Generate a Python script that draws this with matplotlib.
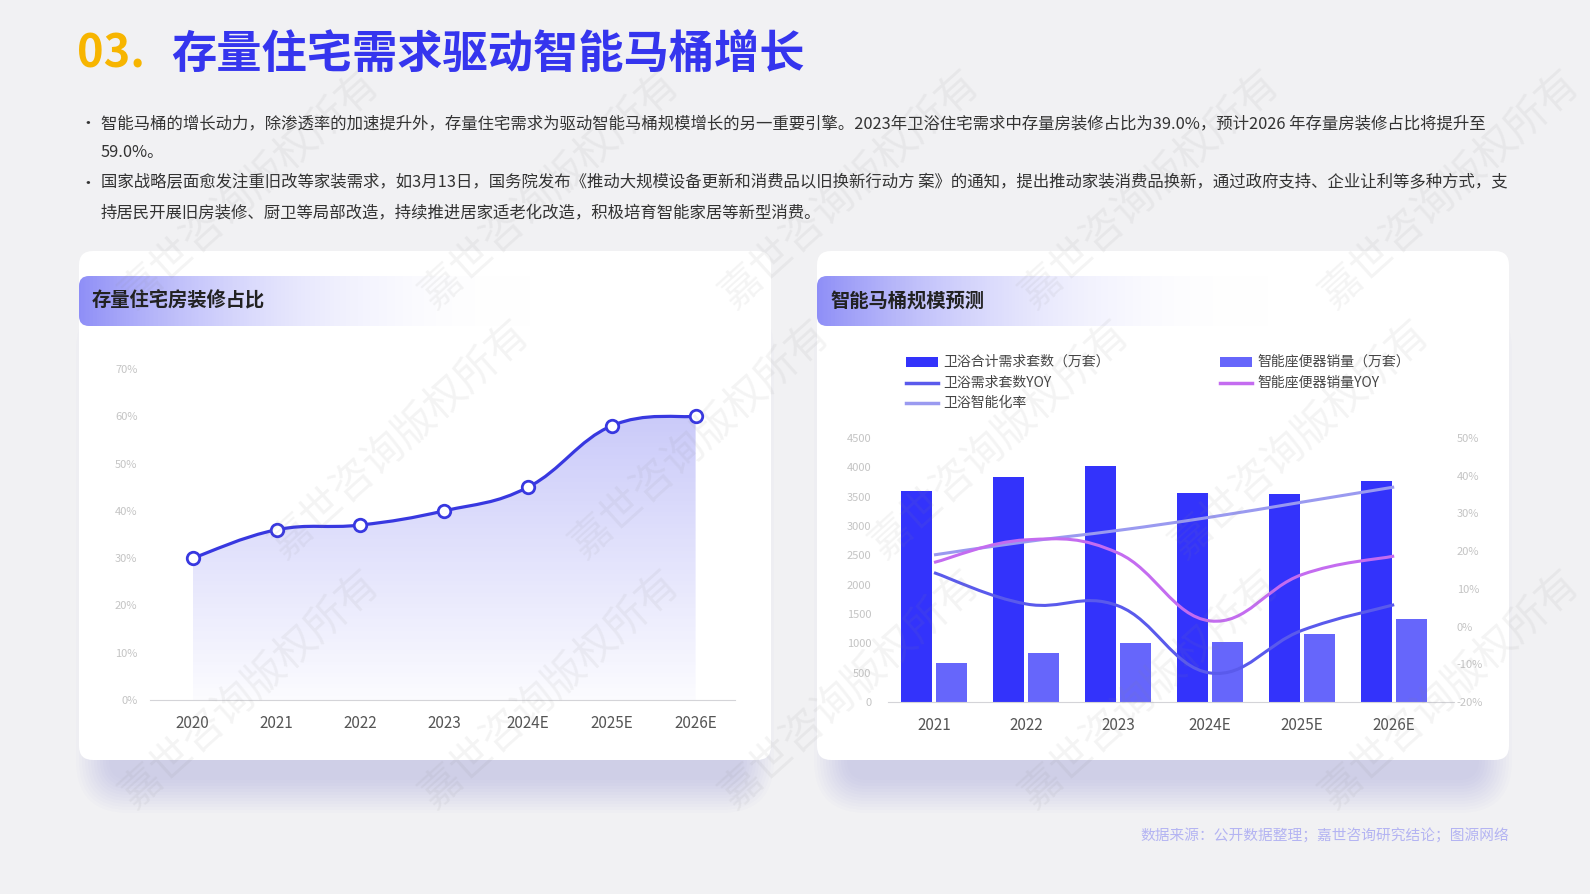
import numpy as np
import matplotlib.pyplot as plt
from matplotlib.patches import FancyBboxPatch, PathPatch, Rectangle
from matplotlib.path import Path
from matplotlib.lines import Line2D

plt.rcParams['font.family'] = ['Noto Sans CJK SC', 'DejaVu Sans']

W, H = 1590, 894

# 左图: 存量住宅房装修占比 (%)
years_left = ['2020', '2021', '2022', '2023', '2024E', '2025E', '2026E']
stock_share = [30, 36, 37, 40, 45, 58, 60]

# 右图: 智能马桶规模预测
years_right = ['2021', '2022', '2023', '2024E', '2025E', '2026E']
bath_demand = [3600, 3840, 4020, 3560, 3540, 3770]      # 万套
toilet_sales = [670, 840, 1010, 1030, 1160, 1410]       # 万套
bath_yoy = [14.3, 6.0, 5.5, -12.3, -1.0, 5.8]           # %
toilet_yoy = [17.0, 23.0, 19.5, 1.5, 13.8, 18.7]        # %
smart_rate = [19.0, 22.5, 25.5, 29.0, 33.0, 37.0]       # %

bullets = [
    ["智能马桶的增长动力，除渗透率的加速提升外，存量住宅需求为驱动智能马桶规模增长的另一重要引擎。2023年卫浴住宅需求中存量房装修占比为39.0%，预计2026 年存量房装修占比将提升至",
     "59.0%。"],
    ["国家战略层面愈发注重旧改等家装需求，如3月13日，国务院发布《推动大规模设备更新和消费品以旧换新行动方 案》的通知，提出推动家装消费品换新，通过政府支持、企业让利等多种方式，支",
     "持居民开展旧房装修、厨卫等局部改造，持续推进居家适老化改造，积极培育智能家居等新型消费。"],
]


def smooth_path(xs, ys, k=0.2):
    # 用三次贝塞尔把数据点连成平滑曲线 (数据坐标)
    xs = np.asarray(xs, float)
    ys = np.asarray(ys, float)
    n = len(xs)
    pts = np.column_stack([xs, ys])
    verts = [pts[0]]
    codes = [Path.MOVETO]
    for i in range(n - 1):
        p0 = pts[max(i - 1, 0)]
        p1 = pts[i]
        p2 = pts[i + 1]
        p3 = pts[min(i + 2, n - 1)]
        c1 = p1 + (p2 - p0) * k
        c2 = p2 - (p3 - p1) * k
        verts += [c1, c2, p2]
        codes += [Path.CURVE4] * 3
    return verts, codes


fig = plt.figure(figsize=(W / 100, H / 100), dpi=100)
fig.patch.set_facecolor('#f1f1f3')

# 背景层: 像素坐标
bg = fig.add_axes([0, 0, 1, 1], zorder=-5)
bg.set_xlim(0, W)
bg.set_ylim(H, 0)
bg.axis('off')

cards = [(79, 251, 692, 509), (817, 251, 692, 509)]
for (cx, cy, cw, ch) in cards:
    # 阴影
    for j in range(12):
        g = 3 * j
        sh = FancyBboxPatch((cx + 30 - g, cy + 60 - g + 20), cw - 60 + 2 * g, ch - 60 + 2 * g,
                            boxstyle="round,pad=0,rounding_size=%d" % (20 + g),
                            fc='#9696e4', ec='none', alpha=0.03)
        bg.add_patch(sh)
    card = FancyBboxPatch((cx, cy), cw, ch, boxstyle="round,pad=0,rounding_size=14",
                          fc='white', ec='none')
    bg.add_patch(card)
    # 标题条渐变
    hdr = FancyBboxPatch((cx, cy + 25), 460, 50, boxstyle="round,pad=0,rounding_size=10",
                         fc='none', ec='none')
    bg.add_patch(hdr)
    grad = np.zeros((1, 256, 4))
    t = np.linspace(0, 1, 256)
    grad[0, :, 0] = 0.56 + 0.44 * t
    grad[0, :, 1] = 0.56 + 0.44 * t
    grad[0, :, 2] = 0.97 + 0.03 * t
    grad[0, :, 3] = np.clip(1 - t, 0, 1) ** 1.4
    im = bg.imshow(grad, extent=[cx, cx + 460, cy + 75, cy + 25], aspect='auto', zorder=2)
    im.set_clip_path(hdr)

bg.text(92, 301, '存量住宅房装修占比', fontsize=13.9, fontweight='bold', color='#222222',
        va='center', zorder=3)
bg.text(830, 301, '智能马桶规模预测', fontsize=13.9, fontweight='bold', color='#222222',
        va='center', zorder=3)

# 标题
bg.text(77, 55, '03.', fontsize=32.5, fontweight='bold', color='#f7b500', va='center')
bg.text(171, 55, '存量住宅需求驱动智能马桶增长', fontsize=32.6, fontweight='bold',
        color='#3535ee', va='center')

# 文字段落
line_y = [[124, 153], [183, 213]]
for b, lines in enumerate(bullets):
    bg.text(79, line_y[b][0], '•', fontsize=12, color='#333333', va='center')
    for li, s in enumerate(lines):
        bg.text(101, line_y[b][li], s, fontsize=11.8, color='#333333', va='center')

# 数据来源
bg.text(1509, 836, '数据来源：公开数据整理；嘉世咨询研究结论；图源网络', fontsize=10.6,
        color='#b4b4f2', ha='right', va='center')

# ---------------- 左图 ----------------
ax1 = fig.add_axes([150 / W, 1 - 700 / H, 585 / W, 331 / H])
ax1.patch.set_alpha(0)
x1 = np.arange(len(years_left))
ax1.set_xlim(-0.51, 6.47)
ax1.set_ylim(0, 70)
verts, codes = smooth_path(x1, stock_share)
area = Path(verts + [(x1[-1], 0), (x1[0], 0), verts[0]],
            codes + [Path.LINETO, Path.LINETO, Path.CLOSEPOLY])
area_patch = PathPatch(area, fc='none', ec='none')
ax1.add_patch(area_patch)
fill = np.zeros((256, 1, 4))
tt = np.linspace(0, 1, 256)[:, None]
fill[..., 0] = 0.33
fill[..., 1] = 0.33
fill[..., 2] = 0.93
fill[..., 3] = 0.30 * tt + 0.02
img = ax1.imshow(fill, extent=[x1[0], x1[-1], 0, 62], origin='lower', aspect='auto', zorder=1)
img.set_clip_path(area_patch)
ax1.add_patch(PathPatch(Path(verts, codes), fc='none', ec='#3838e0', lw=2.3, zorder=3))
ax1.plot(x1, stock_share, 'o', ms=9, mfc='white', mec='#3838e0', mew=2, zorder=4)
ax1.set_xticks(x1)
ax1.set_xticklabels(years_left, fontsize=11, color='#555555')
ax1.set_yticks(range(0, 71, 10))
ax1.set_yticklabels(['%d%%' % v for v in range(0, 71, 10)], fontsize=8, color='#c4c4c4')
ax1.tick_params(length=0)
ax1.tick_params(axis='x', pad=11)
ax1.tick_params(axis='y', pad=9)
for s in ['top', 'right', 'left']:
    ax1.spines[s].set_visible(False)
ax1.spines['bottom'].set_color('#d4d4d8')

# ---------------- 右图 ----------------
ax2 = fig.add_axes([888 / W, 1 - 702 / H, 566 / W, 264 / H])
ax2.patch.set_alpha(0)
x2 = np.arange(len(years_right))
ax2.bar(x2 - 0.19, bath_demand, width=0.34, color='#3333fb', zorder=2)
ax2.bar(x2 + 0.19, toilet_sales, width=0.34, color='#6666fb', zorder=2)
ax2.set_xlim(-0.5, 5.65)
ax2.set_ylim(0, 4500)
ax2.set_yticks(range(0, 4501, 500))
ax2.set_yticklabels([str(v) for v in range(0, 4501, 500)], fontsize=8, color='#c4c4c4')
ax2.set_xticks(x2)
ax2.set_xticklabels(years_right, fontsize=11, color='#555555')
ax2.tick_params(length=0)
ax2.tick_params(axis='x', pad=11)
ax2.tick_params(axis='y', pad=12)
for s in ['top', 'right', 'left']:
    ax2.spines[s].set_visible(False)
ax2.spines['bottom'].set_color('#d4d4d8')

ax3 = ax2.twinx()
ax3.set_ylim(-20, 50)
ax3.set_yticks(range(-20, 51, 10))
ax3.set_yticklabels(['%d%%' % v for v in range(-20, 51, 10)], fontsize=8, color='#c4c4c4')
ax3.tick_params(length=0, pad=2)
for s in ['top', 'right', 'left', 'bottom']:
    ax3.spines[s].set_visible(False)
for vals, col in [(smart_rate, '#9a9af0'), (bath_yoy, '#5a5aec'), (toilet_yoy, '#c46cf0')]:
    v, c = smooth_path(x2, vals)
    ax3.add_patch(PathPatch(Path(v, c), fc='none', ec=col, lw=2.2, zorder=3))

# 图例 (手动)
legend_items = [
    ('bar', '#3333fb', '卫浴合计需求套数（万套）', 906, 362),
    ('line', '#5a5aec', '卫浴需求套数YOY', 906, 383),
    ('line', '#9a9af0', '卫浴智能化率', 906, 403),
    ('bar', '#6666fb', '智能座便器销量（万套）', 1220, 362),
    ('line', '#c46cf0', '智能座便器销量YOY', 1220, 383),
]
for kind, col, label, lx, ly in legend_items:
    if kind == 'bar':
        bg.add_patch(Rectangle((lx, ly - 5), 32, 10, fc=col, ec='none', zorder=3))
    else:
        bg.add_line(Line2D([lx, lx + 32], [ly, ly], color=col, lw=2.5, zorder=3))
    bg.text(lx + 37, ly, label, fontsize=10, color='#444444', va='center', zorder=3)

# 水印 (只放完整落在画面内的)
for r, yy in enumerate(range(-60, 1000, 250)):
    off = 150 if r % 2 else 0
    for xx in range(-200 + off, 1750, 300):
        if 135 < xx < W - 135 and 125 < yy < H - 125:
            fig.text(xx / W, 1 - yy / H, '嘉世咨询版权所有', fontsize=30, color='#888888',
                     alpha=0.09, rotation=42, ha='center', va='center', zorder=20)

fig.savefig('out.png', dpi=100, facecolor=fig.get_facecolor())
